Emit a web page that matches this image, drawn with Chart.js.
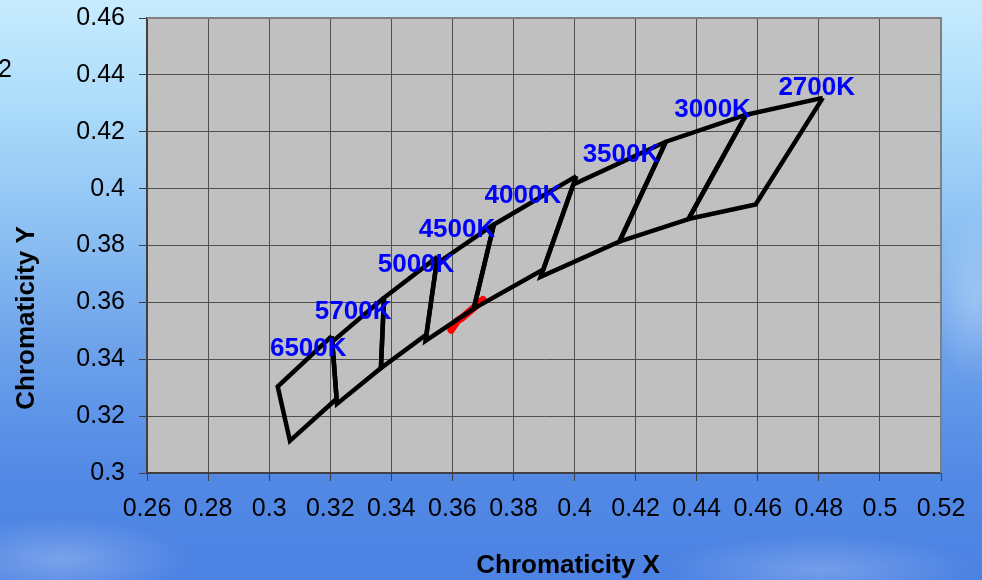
<!DOCTYPE html>
<html>
<head>
<meta charset="utf-8">
<script src="https://cdn.jsdelivr.net/npm/chart.js@4/dist/chart.umd.min.js"></script>
<style>
  html, body { margin: 0; padding: 0; }
  body {
    width: 982px; height: 580px; overflow: hidden;
    background:
      radial-gradient(ellipse 180px 60px at 60px 560px, rgba(255,255,255,0.25), rgba(255,255,255,0) 70%),
      radial-gradient(ellipse 220px 50px at 820px 570px, rgba(255,255,255,0.22), rgba(255,255,255,0) 70%),
      radial-gradient(ellipse 60px 120px at 975px 300px, rgba(255,255,255,0.25), rgba(255,255,255,0) 70%),
      linear-gradient(to bottom, #c6ebfe 0%, #acdcfa 18%, #8cc0f3 40%, #6a9fea 62%, #5289e5 82%, #4c82e3 100%);
  }
  canvas { display: block; }
</style>
</head>
<body>
<canvas id="chart" width="982" height="580"></canvas>
<script>
// -- Data --
const cctNames = ['2700K', '3000K', '3500K', '4000K', '4500K', '5000K', '5700K', '6500K'];

// quadrangle corners (x, y), going top-right -> top-left -> bottom-left -> bottom-right
const quadX = [
    [0.4813, 0.4562, 0.4373, 0.4593],
    [0.4562, 0.4299, 0.4147, 0.4373],
    [0.4299, 0.3996, 0.3889, 0.4147],
    [0.4006, 0.3736, 0.3670, 0.3898],
    [0.3736, 0.3548, 0.3512, 0.3670],
    [0.3551, 0.3376, 0.3366, 0.3515],
    [0.3376, 0.3207, 0.3222, 0.3366],
    [0.3205, 0.3028, 0.3068, 0.3221]
];
const quadY = [
    [0.4319, 0.4260, 0.3893, 0.3944],
    [0.4260, 0.4165, 0.3814, 0.3893],
    [0.4165, 0.4015, 0.3690, 0.3814],
    [0.4044, 0.3874, 0.3578, 0.3716],
    [0.3874, 0.3736, 0.3465, 0.3578],
    [0.3760, 0.3616, 0.3369, 0.3487],
    [0.3616, 0.3462, 0.3243, 0.3369],
    [0.3481, 0.3304, 0.3113, 0.3261]
];

// where each CCT label sits (data units)
const labelX = [0.4793, 0.4452, 0.4152, 0.3831, 0.3615, 0.3481, 0.3275, 0.3128];
const labelY = [0.4355, 0.4278, 0.4120, 0.3975, 0.3856, 0.3732, 0.3567, 0.3437];

// red measured segment
const redX = [0.3596, 0.3616, 0.3632, 0.3700];
const redY = [0.3503, 0.3535, 0.3546, 0.3609];

const xTicks = [0.26, 0.28, 0.30, 0.32, 0.34, 0.36, 0.38, 0.40, 0.42, 0.44, 0.46, 0.48, 0.50, 0.52];
const yTicks = [0.30, 0.32, 0.34, 0.36, 0.38, 0.40, 0.42, 0.44, 0.46];

const xTitle = 'Chromaticity X';
const yTitle = 'Chromaticity Y';

// -- Build datasets --
const datasets = [];
quadX.forEach((xs, i) => {
    const pts = xs.map((x, j) => ({ x: x, y: quadY[i][j] }));
    pts.push(pts[0]);
    datasets.push({
        label: cctNames[i],
        data: pts,
        showLine: true,
        borderColor: '#000',
        borderWidth: 4.5,
        pointRadius: 0,
        borderJoinStyle: 'miter',
        fill: false
    });
});
datasets.push({
    label: 'measured',
    data: redX.map((x, j) => ({ x: x, y: redY[j] })),
    showLine: true,
    borderColor: '#ff0000',
    borderWidth: 7.5,
    borderCapStyle: 'round',
    borderJoinStyle: 'round',
    pointRadius: 0
});

// -- Plugins --
const plotBg = {
    id: 'plotBg',
    beforeDraw(chart) {
        const { ctx, chartArea: a } = chart;
        ctx.save();
        ctx.fillStyle = '#c0c0c0';
        ctx.fillRect(a.left, a.top, a.right - a.left, a.bottom - a.top);
        ctx.restore();
    },
    beforeDatasetsDraw(chart) {
        const { ctx, chartArea: a } = chart;
        ctx.save();
        ctx.strokeStyle = '#808080';
        ctx.lineWidth = 2;
        ctx.beginPath();
        ctx.moveTo(a.left, a.top);
        ctx.lineTo(a.right, a.top);
        ctx.lineTo(a.right, a.bottom);
        ctx.stroke();
        ctx.restore();
    }
};

const cctLabels = {
    id: 'cctLabels',
    afterDatasetsDraw(chart) {
        const { ctx, scales } = chart;
        ctx.save();
        ctx.font = 'bold 26px "Liberation Sans", Arial, sans-serif';
        ctx.fillStyle = '#0000ff';
        ctx.textAlign = 'center';
        ctx.textBaseline = 'middle';
        cctNames.forEach((name, i) => {
            ctx.fillText(name, scales.x.getPixelForValue(labelX[i]), scales.y.getPixelForValue(labelY[i]));
        });
        ctx.restore();
    },
    afterDraw(chart) {
        const { ctx } = chart;
        ctx.save();
        // axis titles sit off-centre in the reference, so place them by hand
        ctx.fillStyle = '#000';
        ctx.font = 'bold 26px "Liberation Sans", Arial, sans-serif';
        ctx.textAlign = 'center';
        ctx.textBaseline = 'middle';
        ctx.fillText(xTitle, 568, 566);
        ctx.translate(27, 318);
        ctx.rotate(-Math.PI / 2);
        ctx.fillText(yTitle, 0, 0);
        ctx.setTransform(1, 0, 0, 1, 0, 0);
        // stray cut-off text at the left edge
        ctx.font = '25px "Liberation Sans", Arial, sans-serif';
        ctx.textAlign = 'left';
        ctx.textBaseline = 'alphabetic';
        ctx.fillText('2', -2, 77);
        ctx.restore();
    }
};

const fmt = v => String(+v.toFixed(2));

// keep the plot box where the reference has it
function noPad(s) {
    s.paddingTop = 0; s.paddingBottom = 0;
    s.paddingLeft = 0; s.paddingRight = 0;
}

new Chart(document.getElementById('chart'), {
    type: 'scatter',
    data: { datasets: datasets },
    options: {
        responsive: false,
        animation: false,
        layout: { padding: { top: 18, right: 41, bottom: 0, left: 0 } },
        plugins: {
            legend: { display: false },
            tooltip: { enabled: false }
        },
        scales: {
            x: {
                type: 'linear',
                min: xTicks[0],
                max: xTicks[xTicks.length - 1],
                afterBuildTicks: s => { s.ticks = xTicks.map(v => ({ value: v })); },
                afterFit: s => { s.height = 107; noPad(s); },
                grid: { color: '#505050', lineWidth: 1, tickLength: 8, tickColor: '#404040' },
                border: { color: '#404040', width: 2 },
                ticks: {
                    color: '#000',
                    padding: 13,
                    maxRotation: 0,
                    autoSkip: false,
                    font: { family: '"Liberation Sans", Arial, sans-serif', size: 25 },
                    callback: fmt
                }
            },
            y: {
                type: 'linear',
                min: yTicks[0],
                max: yTicks[yTicks.length - 1],
                afterBuildTicks: s => { s.ticks = yTicks.map(v => ({ value: v })); },
                afterFit: s => { s.width = 147; noPad(s); },
                grid: { color: '#505050', lineWidth: 1, tickLength: 8, tickColor: '#404040' },
                border: { color: '#404040', width: 2 },
                ticks: {
                    color: '#000',
                    padding: 14,
                    autoSkip: false,
                    font: { family: '"Liberation Sans", Arial, sans-serif', size: 25 },
                    callback: fmt
                }
            }
        }
    },
    plugins: [plotBg, cctLabels]
});
</script>
</body>
</html>
